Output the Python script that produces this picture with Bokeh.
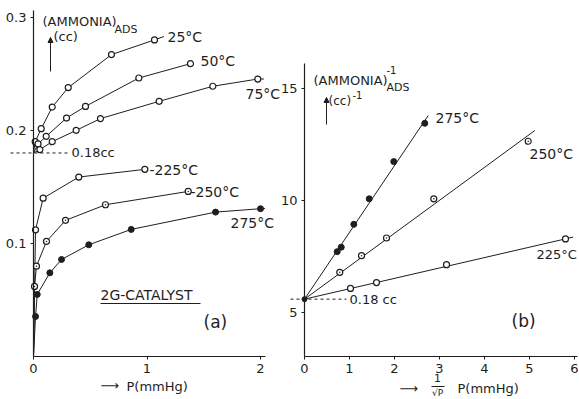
from bokeh.plotting import figure
from bokeh.layouts import row
from bokeh.models import Label, Arrow, NormalHead, FixedTicker, Range1d, LinearAxis
from bokeh.embed import file_html
from bokeh.resources import INLINE

# ---------------- data: panel (a)  adsorbed ammonia (cc) vs P (mmHg)
P_25 = [0.015, 0.068, 0.165, 0.306, 0.687, 1.066]
A_25 = [0.190, 0.2015, 0.2206, 0.2378, 0.267, 0.280]
P_50 = [0.040, 0.112, 0.291, 0.458, 0.928, 1.383]
A_50 = [0.188, 0.1947, 0.2109, 0.2212, 0.2463, 0.259]
P_75 = [0.056, 0.165, 0.376, 0.590, 1.107, 1.580, 1.976]
A_75 = [0.183, 0.190, 0.200, 0.2104, 0.2257, 0.239, 0.2454]
P_225 = [0.018, 0.085, 0.399, 0.981]
A_225 = [0.112, 0.140, 0.1587, 0.1655]
P_250 = [0.009, 0.026, 0.1145, 0.282, 0.634, 1.363]
A_250 = [0.062, 0.0799, 0.1018, 0.1204, 0.1342, 0.146]
P_275 = [0.018, 0.033, 0.144, 0.247, 0.487, 0.861, 1.604, 2.0]
A_275 = [0.0354, 0.0549, 0.074, 0.0858, 0.0988, 0.1124, 0.1277, 0.1307]
# curve start / end points
CURVE_START_HIGH = (0.0, 0.18)
CURVE_START_LOW = (0.0, 0.0)
END_25 = (1.15, 0.283)
END_75 = (2.03, 0.2454)
END_275 = (2.04, 0.131)
MONOLAYER_CC = 0.18

# ---------------- data: panel (b)  1/ammonia vs 1/sqrt(P)
X_275 = [0.727, 0.816, 1.096, 1.438, 1.984, 2.673]
Y_275 = [7.72, 7.92, 8.94, 10.08, 11.74, 13.45]
X_250 = [0.784, 1.267, 1.822, 2.873, 4.971]
Y_250 = [6.80, 7.54, 8.33, 10.08, 12.65]
X_225 = [1.022, 1.600, 3.156, 5.800]
Y_225 = [6.08, 6.34, 7.14, 8.29]
INTERCEPT = 5.6
FIT_275_END = (2.75, 13.8)
FIT_250_END = (5.12, 13.13)
FIT_225_END = (5.97, 8.37)

A_XTICKS = [0, 1, 2]
A_YTICKS = [0.1, 0.2, 0.3]
B_XTICKS = [0, 1, 2, 3, 4, 5, 6]
B_YTICKS = [5, 10, 15]

INK = "#1e1e1e"
FONT = "DejaVu Sans"

# ---------------- geometry (canvas pixels); frames fill each canvas
WA, WB, H = 280, 299, 399
A_X0, A_Y0 = 33, 356          # pixel of data origin, panel a
A_XPX, A_YPX = 113.5, 1130.7
B_X0, B_Y0 = 24, 356          # pixel of data origin (x=0, y=B_YMIN), panel b (local x)
B_XPX, B_YPX = 45.0, 22.4
B_YMIN = 3.04

A_XLIM = (0, 2.044)
A_YLIM = (0, 0.306)
B_XLIM = (0, 6.07)
B_YLIM = (B_YMIN, 16.12)


def ax(px):
    return (px - A_X0) / A_XPX


def ay(py):
    return (A_Y0 - py) / A_YPX


def bx(px):  # px given in full-canvas coordinates
    return (px - WA - B_X0) / B_XPX


def by(py):
    return B_YMIN + (B_Y0 - py) / B_YPX


def make_fig(w, xr, yr, xfix, yfix, xbounds, ybounds, xticks, yticks):
    p = figure(width=w, height=H, output_backend="svg", toolbar_location=None,
               x_range=Range1d(*xr), y_range=Range1d(*yr),
               x_axis_location=None, y_axis_location=None,
               min_border=0, min_border_left=0, min_border_right=0,
               min_border_top=0, min_border_bottom=0)
    p.xgrid.visible = False
    p.ygrid.visible = False
    p.outline_line_color = None
    p.background_fill_color = "white"
    p.border_fill_color = "white"
    xa = LinearAxis(fixed_location=xfix, bounds=xbounds, ticker=FixedTicker(ticks=xticks))
    ya = LinearAxis(fixed_location=yfix, bounds=ybounds, ticker=FixedTicker(ticks=yticks))
    for axis in (xa, ya):
        axis.axis_line_color = INK
        axis.axis_line_width = 1.2
        axis.major_tick_line_color = INK
        axis.major_tick_out = 3
        axis.major_tick_in = 0
        axis.minor_tick_line_color = None
        axis.major_label_text_font = FONT
        axis.major_label_text_font_size = "13px"
        axis.major_label_text_color = INK
        axis.major_label_standoff = 4
    p.add_layout(xa, "below")
    p.add_layout(ya, "left")
    return p


def lab(p, x, y, text, size=13, align="left", baseline="middle"):
    p.add_layout(Label(x=x, y=y, text=text, text_font=FONT, text_font_size=f"{size}px",
                       text_color=INK, text_align=align, text_baseline=baseline))


def seg(p, x0, y0, x1, y1, dash="solid", head=False):
    p.add_layout(Arrow(x_start=x0, y_start=y0, x_end=x1, y_end=y1,
                       end=NormalHead(size=5, fill_color=INK, line_color=INK) if head else None,
                       line_color=INK, line_width=1, line_dash=dash))


# ================= panel (a)
pa = make_fig(WA, (ax(0), ax(WA)), (ay(H), ay(0)), A_YLIM[0], A_XLIM[0],
              A_XLIM, A_YLIM, A_XTICKS, A_YTICKS)

series_a = [
    (P_25, A_25, CURVE_START_HIGH, END_25, "circle"),
    (P_50, A_50, CURVE_START_HIGH, None, "circle"),
    (P_75, A_75, CURVE_START_HIGH, END_75, "circle"),
    (P_225, A_225, CURVE_START_LOW, None, "circle"),
    (P_250, A_250, CURVE_START_LOW, None, "circle_dot"),
    (P_275, A_275, CURVE_START_LOW, END_275, "filled"),
]
for xs, ys, start, end, mk in series_a:
    lx = [start[0]] + xs + ([end[0]] if end else [])
    ly = [start[1]] + ys + ([end[1]] if end else [])
    pa.line(lx, ly, line_color=INK, line_width=1)
    if mk == "filled":
        pa.scatter(xs, ys, marker="circle", size=6, fill_color=INK, line_color=INK)
    else:
        pa.scatter(xs, ys, marker=mk, size=6, fill_color="white", line_color=INK, line_width=1.2)

seg(pa, ax(10), MONOLAYER_CC, ax(68), MONOLAYER_CC, dash="3 3")
lab(pa, ax(71), MONOLAYER_CC, "0.18cc")
lab(pa, ax(42), ay(21), "(AMMONIA)")
lab(pa, ax(114), ay(29), "ADS", size=11)
lab(pa, ax(53), ay(36), "(cc)")
seg(pa, ax(50), ay(71), ax(50), ay(37), head=True)
lab(pa, ax(167), ay(36), "25°C", size=14)
lab(pa, ax(200), ay(60), "50°C", size=14)
lab(pa, ax(245), ay(93), "75°C", size=14)
lab(pa, ax(149), ay(169), "-225°C", size=14)
lab(pa, ax(190), ay(191), "-250°C", size=14)
lab(pa, ax(230), ay(222), "275°C", size=14)
lab(pa, ax(100), ay(294), "2G-CATALYST", size=14)
seg(pa, ax(100), ay(303), ax(200), ay(303))
lab(pa, ax(203), ay(321), "(a)", size=17)
lab(pa, ax(100), ay(385), "⟶", size=13)
lab(pa, ax(126), ay(386), "P(mmHg)", size=13)

# ================= panel (b)
pb = make_fig(WB, (bx(WA), bx(WA + WB)), (by(H), by(0)), B_YLIM[0], B_XLIM[0],
              B_XLIM, B_YLIM, B_XTICKS, B_YTICKS)

series_b = [
    (X_275, Y_275, FIT_275_END, "filled"),
    (X_250, Y_250, FIT_250_END, "circle_dot"),
    (X_225, Y_225, FIT_225_END, "circle"),
]
for xs, ys, end, mk in series_b:
    pb.line([0, end[0]], [INTERCEPT, end[1]], line_color=INK, line_width=1)
    if mk == "filled":
        pb.scatter(xs, ys, marker="circle", size=6, fill_color=INK, line_color=INK)
    else:
        pb.scatter(xs, ys, marker=mk, size=6, fill_color="white", line_color=INK, line_width=1.2)
pb.scatter([0], [INTERCEPT], marker="circle", size=5, fill_color=INK, line_color=INK)

seg(pb, bx(290), INTERCEPT, bx(346), INTERCEPT, dash="3 3")
lab(pb, bx(349), INTERCEPT, "0.18 cc")
lab(pb, bx(313), by(80), "(AMMONIA)")
lab(pb, bx(386), by(69), "-1", size=10)
lab(pb, bx(386), by(87), "ADS", size=11)
lab(pb, bx(328), by(100), "(cc)", size=12)
lab(pb, bx(352), by(94), "-1", size=10)
seg(pb, bx(326), by(124), bx(326), by(97), head=True)
lab(pb, bx(435), by(117), "275°C", size=14)
lab(pb, bx(529), by(153), "250°C", size=14)
lab(pb, bx(536), by(254), "225°C", size=13)
lab(pb, bx(511), by(320), "(b)", size=17)
lab(pb, bx(399), by(388), "⟶", size=13)
lab(pb, bx(437), by(377), "1", size=11, align="center")
seg(pb, bx(431), by(386), bx(444), by(386))
lab(pb, bx(437), by(387), "√P", size=9, align="center", baseline="top")
lab(pb, bx(457), by(388), "P(mmHg)", size=13)

layout = row(pa, pb)
open("out.html", "w").write(file_html(layout, INLINE))
